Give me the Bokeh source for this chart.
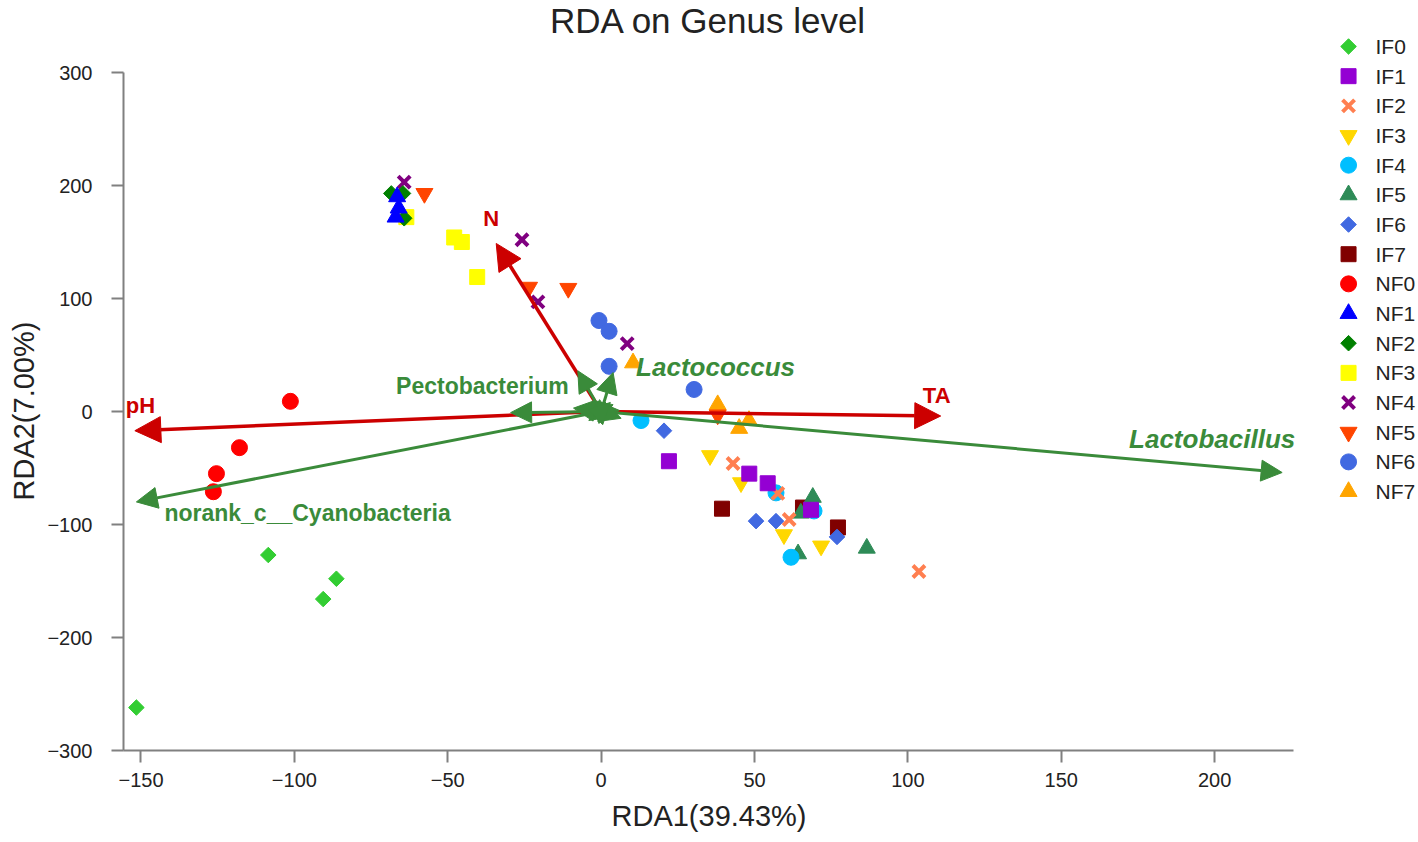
import math
from bokeh.plotting import figure
from bokeh.models import Range1d, FixedTicker, Arrow, NormalHead, ColumnDataSource, Title
from bokeh.core.properties import value
from bokeh.embed import file_html
from bokeh.resources import INLINE

# ---------------- data ----------------
groups = ["IF0", "IF1", "IF2", "IF3", "IF4", "IF5", "IF6", "IF7",
          "NF0", "NF1", "NF2", "NF3", "NF4", "NF5", "NF6", "NF7"]

if0_x = [-151.5, -108.5, -90.6, -86.3]
if0_y = [-262.0, -127.0, -166.0, -148.0]
if1_x = [22.1, 48.3, 54.3, 68.4]
if1_y = [-44.0, -55.0, -63.5, -87.0]
if2_x = [43.0, 57.6, 61.3, 103.6]
if2_y = [-46.0, -72.5, -95.6, -141.6]
if3_x = [35.5, 45.6, 59.6, 71.7]
if3_y = [-39.0, -63.0, -109.0, -119.0]
if4_x = [13.0, 57.0, 61.9, 69.4]
if4_y = [-8.0, -72.0, -129.0, -88.0]
if5_x = [69.0, 65.1, 86.6, 64.2]
if5_y = [-76.0, -90.0, -121.0, -126.0]
if6_x = [20.5, 50.5, 57.0, 76.9]
if6_y = [-17.0, -97.0, -97.0, -111.0]
if7_x = [39.4, 65.8, 77.2]
if7_y = [-86.0, -85.0, -102.6]
nf0_x = [-101.3, -117.9, -125.4, -126.4]
nf0_y = [9.0, -32.0, -55.0, -71.0]
nf1_x = [-66.5, -66.0, -67.0]
nf1_y = [190.0, 180.0, 172.0]
nf2_x = [-68.4, -64.6, -64.2]
nf2_y = [193.0, 193.0, 171.0]
nf3_x = [-63.5, -47.9, -45.4, -40.4]
nf3_y = [172.0, 154.0, 150.0, 119.0]
nf4_x = [-64.2, -25.8, -20.6, 8.5]
nf4_y = [203.0, 152.0, 97.0, 60.0]
nf5_x = [-57.6, -23.5, -10.7, 38.0]
nf5_y = [193.0, 110.0, 109.0, -3.0]
nf6_x = [-0.7, 2.6, 2.6, 30.3]
nf6_y = [80.5, 71.0, 40.0, 19.5]
nf7_x = [10.4, 38.0, 45.0, 48.2]
nf7_y = [43.0, 6.0, -15.0, -8.0]

group_x = [if0_x, if1_x, if2_x, if3_x, if4_x, if5_x, if6_x, if7_x,
           nf0_x, nf1_x, nf2_x, nf3_x, nf4_x, nf5_x, nf6_x, nf7_x]
group_y = [if0_y, if1_y, if2_y, if3_y, if4_y, if5_y, if6_y, if7_y,
           nf0_y, nf1_y, nf2_y, nf3_y, nf4_y, nf5_y, nf6_y, nf7_y]

# environmental factors (arrow tips)
env_names = ["pH", "TA", "N"]
env_x = [-152.0, 110.7, -34.2]
env_y = [-17.0, -4.0, 148.7]

# species (arrow tips)
sp_names = ["Lactobacillus", "norank_c__Cyanobacteria", "Pectobacterium", "Lactococcus"]
sp_x = [222.0, -151.5, -29.5, 3.9]
sp_y = [-54.0, -80.0, -1.0, 34.5]

# other (unlabelled) species arrows near origin
minor_x = [-7.6, -0.7, 5.9, -4.0, 6.5, -9.0, 3.0]
minor_y = [36.0, -10.6, 1.0, -8.0, -6.0, 3.0, 8.0]

x_ticks = [-150, -100, -50, 0, 50, 100, 150, 200]
y_ticks = [-300, -200, -100, 0, 100, 200, 300]
x_bounds = (-155.7, 225.7)
y_bounds = (-300, 300)

title_text = "RDA on Genus level"
x_label = "RDA1(39.43%)"
y_label = "RDA2(7.00%)"

# ---------------- styles ----------------
FONT = "Liberation Sans"
RED = "#CC0000"
GREEN = "#3A8B3A"
TXT = "#222222"
styles = {
    "IF0": ("diamond", "#32CD32"),
    "IF1": ("square", "#9400D3"),
    "IF2": ("x", "#FF7F50"),
    "IF3": ("inverted_triangle", "#FFD700"),
    "IF4": ("circle", "#00BFFF"),
    "IF5": ("triangle", "#2E8B57"),
    "IF6": ("diamond", "#4169E1"),
    "IF7": ("square", "#800000"),
    "NF0": ("circle", "#FF0000"),
    "NF1": ("triangle", "#0000FF"),
    "NF2": ("diamond", "#008000"),
    "NF3": ("square", "#FFFF00"),
    "NF4": ("x", "#800080"),
    "NF5": ("inverted_triangle", "#FF4500"),
    "NF6": ("circle", "#4169E1"),
    "NF7": ("triangle", "#FFA500"),
}
sizes = {"circle": 16, "square": 15, "diamond": 11, "triangle": 17,
         "inverted_triangle": 17, "x": 17}

# frame geometry (pixels)
LEFT, BOTTOM = 122, 90
W, H = 1416, 840
FW, FH = W - LEFT, H - BOTTOM
XS, YS = 3.07, 1.13          # pixels per data unit
x_start = x_bounds[0]
x_end = x_start + FW / XS
y_start = y_bounds[0]
y_end = y_start + FH / YS

p = figure(width=W, height=H, output_backend="svg", toolbar_location=None,
           x_range=Range1d(x_start, x_end), y_range=Range1d(y_start, y_end))
p.min_border = 0
p.min_border_left = LEFT
p.min_border_bottom = BOTTOM
p.min_border_right = 0
p.min_border_top = 0
p.outline_line_color = None
p.xgrid.visible = False
p.ygrid.visible = False
p.background_fill_color = "white"

p.extra_x_ranges = {"px": Range1d(0, FW)}
p.extra_y_ranges = {"py": Range1d(FH, 0)}


def draw_marker(x, y, marker, color, **kw):
    size = sizes[marker]
    if marker == "diamond":
        return p.scatter(x, y, marker="square", angle=math.pi / 4, size=size,
                         fill_color=color, line_color=color, **kw)
    if marker == "x":
        return p.scatter(x, y, marker="x", size=size, line_color=color,
                         line_width=4, **kw)
    return p.scatter(x, y, marker=marker, size=size, fill_color=color,
                     line_color=color, **kw)


# points (drawn in reverse order so that earlier groups sit on top)
for g, xs, ys in reversed(list(zip(groups, group_x, group_y))):
    m, c = styles[g]
    draw_marker(xs, ys, m, c)

# arrows: environmental factors
env_src = ColumnDataSource(dict(x0=[0] * len(env_x), y0=[0] * len(env_y), x1=env_x, y1=env_y))
p.add_layout(Arrow(source=env_src, x_start="x0", y_start="y0", x_end="x1", y_end="y1",
                   line_color=RED, line_width=3.5,
                   end=NormalHead(size=26, fill_color=RED, line_color=RED, line_width=1)))

all_sp_x = sp_x + minor_x
all_sp_y = sp_y + minor_y
sp_src = ColumnDataSource(dict(x0=[0] * len(all_sp_x), y0=[0] * len(all_sp_y), x1=all_sp_x, y1=all_sp_y))
p.add_layout(Arrow(source=sp_src, x_start="x0", y_start="y0", x_end="x1", y_end="y1",
                   line_color=GREEN, line_width=3,
                   end=NormalHead(size=21, fill_color=GREEN, line_color=GREEN, line_width=1)))

# labels for environmental arrows
env_off_x = [-9, -4, -5]
env_off_y = [-25, -21, -25]
env_align = ["left", "center", "center"]
p.text(x=env_x, y=env_y, text=env_names, x_offset=env_off_x, y_offset=env_off_y,
       text_align=env_align, text_baseline="middle", text_color=RED,
       text_font=value(FONT), text_font_style="bold", text_font_size="22px")

# labels for species arrows
sp_off_x = [-70, 28, 58, 23]
sp_off_y = [-34, 11, -27, -6]
sp_align = ["center", "left", "right", "left"]
sp_fstyle = ["bold italic", "bold", "bold", "bold italic"]
sp_fsize = ["26px", "23px", "23px", "26px"]
for i in range(len(sp_names)):
    p.text(x=[sp_x[i]], y=[sp_y[i]], text=[sp_names[i]], x_offset=sp_off_x[i], y_offset=sp_off_y[i],
           text_align=sp_align[i], text_baseline="middle", text_color=GREEN,
           text_font=value(FONT), text_font_style=sp_fstyle[i], text_font_size=sp_fsize[i])

# legend (manual, in pixel space to the right of the axes)
LEG_X, LEG_Y0, LEG_DY = 1226, 46, 29.67
for i, g in enumerate(groups):
    m, c = styles[g]
    draw_marker([LEG_X], [LEG_Y0 + LEG_DY * i], m, c, x_range_name="px", y_range_name="py")
p.text(x=[LEG_X + 27] * len(groups), y=[LEG_Y0 + LEG_DY * i for i in range(len(groups))],
       text=groups, x_range_name="px", y_range_name="py", text_align="left",
       text_baseline="middle", text_color=TXT, text_font=value(FONT), text_font_size="21px")

# title
p.text(x=[(x_bounds[0] + x_bounds[1]) / 2], y=[y_end], text=[title_text], y_offset=0,
       text_align="center", text_baseline="top", text_color=TXT,
       text_font=value(FONT), text_font_size="35px")

# axis titles, positioned so they are centred on the axis bounds
p.add_layout(Title(text=x_label, align="left", offset=488, standoff=17,
                   text_font=FONT, text_font_size="29px", text_font_style="normal",
                   text_color=TXT), "below")
p.add_layout(Title(text=y_label, align="left", offset=250, standoff=10,
                   text_font=FONT, text_font_size="29px", text_font_style="normal",
                   text_color=TXT), "left")

# axes
for ax in (p.xaxis[0], p.yaxis[0]):
    ax.axis_line_color = "#808080"
    ax.axis_line_width = 2
    ax.major_tick_line_color = "#808080"
    ax.major_tick_line_width = 2
    ax.major_tick_out = 12
    ax.major_tick_in = 0
    ax.minor_tick_line_color = None
    ax.major_label_text_font = FONT
    ax.major_label_text_font_size = "20px"
    ax.major_label_text_color = TXT

p.xaxis[0].ticker = FixedTicker(ticks=x_ticks)
p.yaxis[0].ticker = FixedTicker(ticks=y_ticks)
p.xaxis[0].bounds = x_bounds
p.yaxis[0].bounds = y_bounds
p.xaxis[0].major_label_standoff = 10
p.yaxis[0].major_label_standoff = 19

open("out.html", "w").write(file_html(p, INLINE))
